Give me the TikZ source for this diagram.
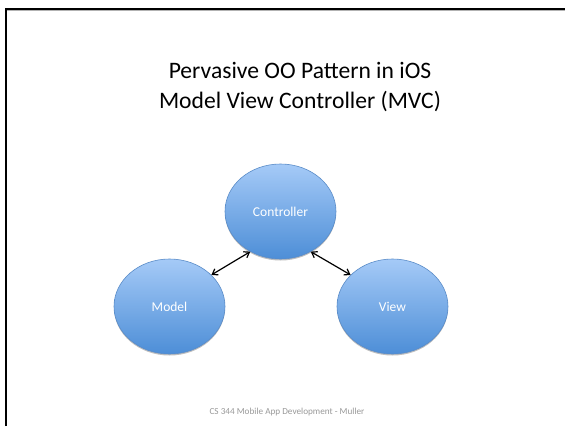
\documentclass[tikz,border=0pt]{standalone}
\usepackage{fontspec}
\setmainfont{Carlito}
\usetikzlibrary{shadows,shapes.geometric,arrows.meta}
\definecolor{toptone}{HTML}{A5CAF7}
\definecolor{bottone}{HTML}{4D8ED7}
\definecolor{rimtone}{HTML}{5A8CC8}
\tikzset{
  bubble/.style={ellipse, minimum width=111pt, minimum height=95pt, inner sep=0pt,
    draw=rimtone, line width=0.6pt, top color=toptone, bottom color=bottone,
    text=white, font=\fontsize{13.5}{16}\selectfont,
    drop shadow={shadow xshift=0pt, shadow yshift=-1.5pt, opacity=0.25, fill=black}},
  link/.style={{Straight Barb[length=5pt,width=7pt]}-{Straight Barb[length=5pt,width=7pt]}, line width=1.2pt, black}
}
\begin{document}
\begin{tikzpicture}[x=1pt,y=-1pt]
\useasboundingbox (0,0) rectangle (565,426);
\fill[white] (0,0) rectangle (565,426);
% slide frame
\draw[gray!60, line width=1pt] (7,10.5) -- (565,10.5);
\draw[black, line width=2pt] (6,426) -- (6,9) -- (565,9);
\node[align=center, font=\fontsize{23.6}{30}\selectfont] (title) at (300,87) {Pervasive OO Pattern in iOS\\Model View Controller (MVC)};
\node[bubble] (ctrl) at (280.5,211.5) {Controller};
\node[bubble] (model) at (169.5,306.5) {Model};
\node[bubble] (view) at (392.5,306.5) {View};
\draw[link] (model.37) -- (ctrl.233);
\draw[link] (view.143) -- (ctrl.307);
\node[text=gray!80, font=\fontsize{9.2}{11}\selectfont] (foot) at (287,412) {CS 344 Mobile App Development - Muller};
\end{tikzpicture}
\end{document}
